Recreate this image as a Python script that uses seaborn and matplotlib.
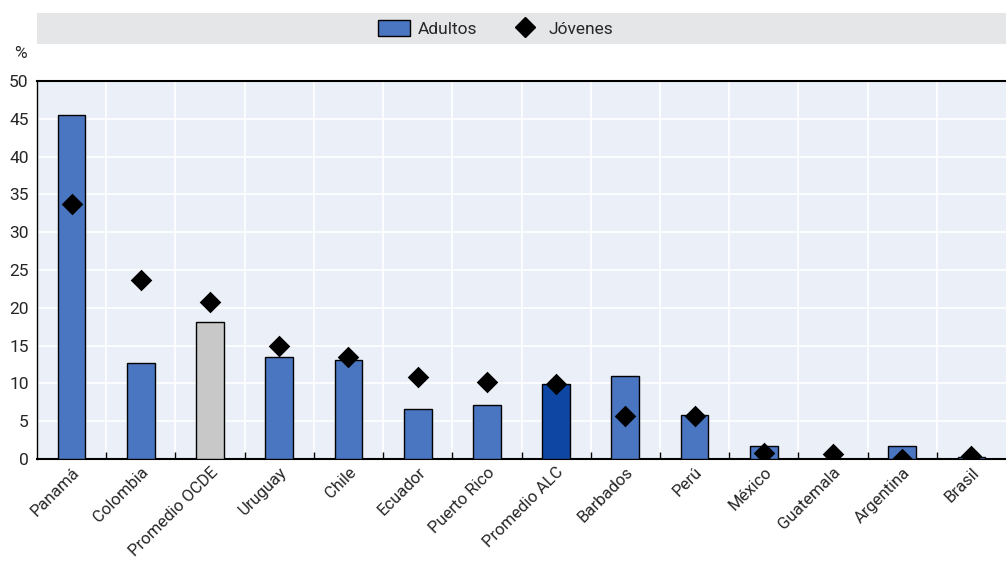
import numpy as np
import pandas as pd
import seaborn as sns
import matplotlib.pyplot as plt
from matplotlib.patches import Patch, Rectangle
from matplotlib.lines import Line2D

paises = ["Panamá", "Colombia", "Promedio OCDE", "Uruguay", "Chile", "Ecuador",
          "Puerto Rico", "Promedio ALC", "Barbados", "Perú", "México",
          "Guatemala", "Argentina", "Brasil"]
adultos = [45.5, 12.7, 18.1, 13.5, 13.1, 6.6, 7.1, 9.9, 11.0, 5.8, 1.7, 0.0, 1.7, 0.2]
jovenes = [33.7, 23.7, 20.8, 15.0, 13.5, 10.8, 10.2, 9.9, 5.7, 5.7, 0.8, 0.7, 0.0, 0.4]

df = pd.DataFrame({"pais": paises, "adultos": adultos, "jovenes": jovenes})

azul = "#4a75c1"
colores = {p: azul for p in paises}
colores["Promedio OCDE"] = "#c8c8c8"
colores["Promedio ALC"] = "#0e47a3"

sns.set_style("white")
plt.rcParams["font.family"] = ["Roboto", "DejaVu Sans"]

fig = plt.figure(figsize=(10.06, 5.62), dpi=100)
ax = fig.add_axes([0.0368, 0.1833, 0.9632, 0.6726])
ax.set_facecolor("#eaeff8")

sns.barplot(data=df, x="pais", y="adultos", hue="pais", palette=colores,
            order=paises, width=0.4, edgecolor="black", linewidth=1,
            saturation=1, legend=False, ax=ax, zorder=3)
sns.stripplot(data=df, x="pais", y="jovenes", order=paises, jitter=False,
              marker="D", color="black", size=11, ax=ax, zorder=4)

ax.set_ylim(0, 50)
ax.set_xlim(-0.5, len(paises) - 0.5)
ax.set_yticks(np.arange(0, 51, 5))
ax.set_xlabel("")
ax.set_ylabel("")

# rejilla
ax.set_xticks(np.arange(0.5, len(paises) - 0.5, 1), minor=True)
ax.grid(axis="y", which="major", color="white", linewidth=1.2, zorder=0)
ax.grid(axis="x", which="minor", color="white", linewidth=1.2, zorder=0)
ax.set_axisbelow(True)

ax.tick_params(axis="y", which="major", direction="out", length=4, width=1,
               color="black", labelsize=12.5, pad=2)
ax.tick_params(axis="x", which="major", length=0, labelsize=12, pad=4)
ax.tick_params(axis="x", which="minor", direction="in", length=5, width=1,
               color="black", bottom=True)
plt.setp(ax.get_xticklabels(), rotation=45, ha="right", rotation_mode="anchor")

for s in ["left", "bottom", "top"]:
    ax.spines[s].set_visible(True)
    ax.spines[s].set_color("black")
ax.spines["left"].set_linewidth(1)
ax.spines["bottom"].set_linewidth(1.5)
ax.spines["top"].set_linewidth(1.5)
ax.spines["right"].set_visible(False)

# banda de leyenda
fig.patches.append(Rectangle((0.0368, 1 - 44 / 562), 0.9632, 31 / 562,
                             transform=fig.transFigure, facecolor="#e5e6e8",
                             edgecolor="none", zorder=0))
handles = [Patch(facecolor=azul, edgecolor="black", linewidth=1, label="Adultos"),
           Line2D([], [], marker="D", color="black", linestyle="none",
                  markersize=10, label="Jóvenes")]
fig.legend(handles=handles, loc="center", bbox_to_anchor=(0.493, 1 - 28.5 / 562),
           ncol=2, frameon=False, fontsize=12.5, handlelength=1.8,
           handleheight=1.0, columnspacing=1.8, handletextpad=0.5)

fig.text(14 / 1006, 1 - 53 / 562, "%", fontsize=12.5, ha="left", va="center")

fig.savefig("out.png", dpi=100)
